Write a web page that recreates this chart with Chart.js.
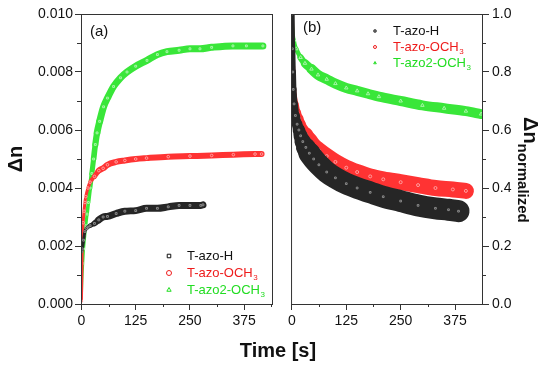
<!DOCTYPE html>
<html>
<head>
<meta charset="utf-8">
<script src="https://cdn.jsdelivr.net/npm/chart.js@4.4.0/dist/chart.umd.min.js"></script>
<style>
  body { margin: 0; background: #fff; width: 550px; height: 366px; overflow: hidden; position: relative;
         font-family: "Liberation Sans", Arial, sans-serif; color: #111; }
  #wrapA { position: absolute; left: 0; top: 0; width: 285px; height: 366px; }
  #wrapB { position: absolute; left: 285px; top: 0; width: 265px; height: 366px; }
  .xtitle { position: absolute; left: 178px; width: 200px; top: 338px; line-height: 24px;
            text-align: center; font-weight: bold; font-size: 20px; }
  .ytitle { position: absolute; left: 543px; top: 117px; white-space: nowrap; font-weight: bold;
            transform-origin: 0 0; transform: rotate(90deg); line-height: 24px; }
  .ytitle .big { font-size: 20px; }
  .ytitle sub { font-size: 15px; vertical-align: -6px; }
</style>
</head>
<body>
<div id="wrapA"><canvas id="chartA"></canvas></div>
<div id="wrapB"><canvas id="chartB"></canvas></div>
<div class="xtitle">Time [s]</div>
<div class="ytitle"><span class="big">Δn</span><sub>normalized</sub></div>

<script>
// ---- dados ----
const seriesNames = ['T-azo-H', 'T-azo-OCH3', 'T-azo2-OCH3'];
const xTicks = [0, 125, 250, 375];

// (a) crescimento de Δn
const tA_H = [0, 2, 5, 8, 12, 15, 20, 30, 40, 50, 60, 80, 100, 125, 150, 175, 200, 225, 250, 275, 280];
const dnA_H = [0.0018, 0.0019, 0.0022, 0.0025, 0.0026, 0.00265, 0.0027, 0.00278, 0.0029, 0.0030, 0.00302,
               0.00312, 0.0032, 0.00322, 0.0033, 0.0033, 0.00335, 0.0034, 0.0034, 0.0034, 0.00342];
const tA_OCH3 = [0, 2, 4, 6, 8, 10, 15, 20, 30, 40, 50, 60, 80, 100, 125, 150, 200, 250, 300, 350, 400, 415];
const dnA_OCH3 = [0.0001, 0.0022, 0.0028, 0.0032, 0.0035, 0.0037, 0.0040, 0.0042, 0.0044, 0.0046, 0.00468,
                  0.0048, 0.0049, 0.00495, 0.0050, 0.00503, 0.00508, 0.0051, 0.00512, 0.00515, 0.00517, 0.00517];
const tA_azo2 = [0, 1, 3, 5, 8, 10, 13, 16, 20, 24, 28, 32, 36, 42, 51, 60, 74, 90, 105, 125, 151, 175, 197,
                 225, 250, 273, 300, 349, 380, 418];
const dnA_azo2 = [0.0003, 0.0008, 0.0014, 0.0019, 0.0024, 0.0027, 0.0031, 0.0035, 0.0040, 0.0045, 0.0050,
                  0.0055, 0.0059, 0.0063, 0.0068, 0.0071, 0.0075, 0.0078, 0.0080, 0.0082, 0.0084, 0.0086,
                  0.0087, 0.00875, 0.0088, 0.0088, 0.00885, 0.0089, 0.0089, 0.0089];

// (b) relaxação normalizada
const tB_H = [0, 1, 2, 3, 5, 8, 12, 16, 20, 25, 32, 40, 50, 62, 80, 100, 125, 150, 180, 210, 250, 290, 330, 360, 383];
const dnB_H = [1.0, 0.88, 0.80, 0.74, 0.69, 0.65, 0.62, 0.60, 0.58, 0.56, 0.54, 0.52, 0.50, 0.48, 0.455, 0.435,
               0.415, 0.40, 0.385, 0.37, 0.355, 0.34, 0.33, 0.325, 0.32];
const tB_OCH3 = [0, 1, 2, 3, 5, 8, 12, 16, 20, 25, 32, 40, 50, 62, 80, 100, 125, 150, 180, 210, 250, 290, 330, 370, 400];
const dnB_OCH3 = [1.0, 0.90, 0.82, 0.77, 0.72, 0.69, 0.66, 0.64, 0.62, 0.60, 0.585, 0.565, 0.545, 0.53, 0.51,
                  0.49, 0.47, 0.455, 0.44, 0.43, 0.42, 0.41, 0.40, 0.395, 0.39];
const tB_azo2 = [0, 2, 5, 10, 20, 30, 45, 60, 80, 100, 125, 150, 175, 200, 250, 300, 350, 400, 435];
const dnB_azo2 = [1.0, 0.95, 0.91, 0.88, 0.85, 0.83, 0.81, 0.79, 0.775, 0.76, 0.745, 0.735, 0.725, 0.715,
                  0.70, 0.685, 0.675, 0.665, 0.655];

const colors = ['#111111', '#ee1c1c', '#22dd22'];     // legenda
const bands = ['#262626', '#ff3333', '#39e639'];      // faixa da nuvem de pontos
const specks = ['#8a8a8a', '#ffa0a0', '#a8f5a8'];     // marcadores

const pts = (xs, ys) => xs.map((x, i) => ({ x: x, y: ys[i] }));

Chart.defaults.font.family = '"Liberation Sans", Arial, sans-serif';
Chart.defaults.color = '#111';

// moldura + ticks menores
const framePlugin = {
    id: 'frame',
    afterDraw(chart, args, opts) {
        const ctx = chart.ctx;
        const a = chart.chartArea;
        ctx.save();
        ctx.strokeStyle = '#333';
        ctx.lineWidth = 1;
        ctx.strokeRect(a.left + 0.5, a.top + 0.5, a.right - a.left, a.bottom - a.top);
        const xs = chart.scales.x;
        for (let v = opts.xMinor; v < xs.max; v += opts.xMinor * 2) {
            const px = Math.round(xs.getPixelForValue(v)) + 0.5;
            ctx.beginPath(); ctx.moveTo(px, a.bottom); ctx.lineTo(px, a.bottom + 3); ctx.stroke();
        }
        const ys = chart.scales.y;
        const right = ys.position === 'right';
        for (let v = opts.yMinor; v < ys.max; v += opts.yMinor * 2) {
            const py = Math.round(ys.getPixelForValue(v)) + 0.5;
            ctx.beginPath();
            if (right) { ctx.moveTo(a.right, py); ctx.lineTo(a.right + 4, py); }
            else { ctx.moveTo(a.left, py); ctx.lineTo(a.left - 4, py); }
            ctx.stroke();
        }
        ctx.restore();
    }
};

// legenda dentro do gráfico, com subscrito
const inLegendPlugin = {
    id: 'inLegend',
    afterDraw(chart, args, opts) {
        const ctx = chart.ctx;
        ctx.save();
        ctx.textBaseline = 'middle';
        chart.data.datasets.forEach((ds, i) => {
            const y = opts.y + i * opts.step;
            ctx.strokeStyle = colors[i];
            ctx.fillStyle = 'rgba(0,0,0,0)';
            ctx.lineWidth = 1;
            Chart.helpers.drawPoint(ctx, { pointStyle: ds.legendStyle || ds.pointStyle, radius: opts.markerRadius,
                                           rotation: 0, borderWidth: 1 }, opts.markerX, y);
            const m = ds.label.match(/^(.*OCH)(3)$/);
            ctx.fillStyle = colors[i];
            ctx.font = opts.fontSize + 'px "Liberation Sans", Arial, sans-serif';
            const main = m ? m[1] : ds.label;
            ctx.fillText(main, opts.textX, y);
            if (m) {
                const w = ctx.measureText(main).width;
                ctx.font = Math.round(opts.fontSize * 0.65) + 'px "Liberation Sans", Arial, sans-serif';
                ctx.fillText(m[2], opts.textX + w + 0.5, y + 5);
            }
        });
        ctx.fillStyle = '#111';
        ctx.font = opts.tagSize + 'px "Liberation Sans", Arial, sans-serif';
        ctx.fillText(opts.tag, opts.tagX, opts.tagY);
        ctx.restore();
    }
};

// faixa larga = nuvem de pontos; mais estreita no início da curva
const makeDataset = (label, data, i, style, radius, width) => ({
    label: label,
    data: data,
    showLine: true,
    borderColor: bands[i],
    borderWidth: width,
    borderCapStyle: 'round',
    borderJoinStyle: 'round',
    cubicInterpolationMode: 'monotone',
    segment: {
        borderWidth: (c) => Math.max(3, width * Math.min(1, 0.25 + c.p0.parsed.x / 50))
    },
    pointStyle: style,
    pointRadius: radius,
    pointBorderWidth: 1,
    pointBorderColor: specks[i],
    pointBackgroundColor: 'rgba(0,0,0,0)'
});

const xAxis = (min, max) => ({
    type: 'linear',
    min: min,
    max: max,
    afterFit: (s) => { s.height = 62; },
    afterBuildTicks: (s) => { s.ticks = xTicks.map(v => ({ value: v })); },
    ticks: { font: { size: 14 }, color: '#111', padding: 3, maxRotation: 0 },
    grid: { drawOnChartArea: false, drawTicks: true, tickLength: 6, color: '#333' },
    border: { display: true, color: '#333' }
});

// ---- (a) ----
const dsA = [
    makeDataset(seriesNames[0], pts(tA_H, dnA_H), 0, 'rect', 1.3, 7),
    makeDataset(seriesNames[1], pts(tA_OCH3, dnA_OCH3), 1, 'circle', 1.3, 6),
    makeDataset(seriesNames[2], pts(tA_azo2, dnA_azo2), 2, 'rect', 1.3, 7)
];
dsA[2].legendStyle = 'triangle';

new Chart(document.getElementById('chartA'), {
    type: 'scatter',
    data: { datasets: dsA },
    options: {
        responsive: true,
        maintainAspectRatio: false,
        animation: false,
        layout: { padding: { top: 14, right: 13, left: 0, bottom: 0 } },
        plugins: {
            legend: { display: false },
            tooltip: { enabled: false },
            frame: { xMinor: 62.5, yMinor: 0.001 },
            inLegend: { markerX: 169, textX: 187, y: 256, step: 17, markerRadius: 2.5, fontSize: 13,
                        tag: '(a)', tagX: 90, tagY: 32, tagSize: 15 }
        },
        scales: {
            x: xAxis(-1, 439),
            y: {
                min: 0,
                max: 0.010,
                afterFit: (s) => { s.width = 81; },
                ticks: { stepSize: 0.002, font: { size: 14 }, color: '#111', padding: 2,
                         callback: (v) => v.toFixed(3) },
                title: { display: true, text: 'Δn', font: { size: 20, weight: 'bold' }, color: '#111', padding: 4 },
                grid: { drawOnChartArea: false, drawTicks: true, tickLength: 6, color: '#333' },
                border: { display: true, color: '#333' }
            }
        }
    },
    plugins: [framePlugin, inLegendPlugin]
});

// ---- (b) ----
const dsB = [
    makeDataset(seriesNames[0], pts(tB_H, dnB_H), 0, 'rect', 1.2, 22),
    makeDataset(seriesNames[1], pts(tB_OCH3, dnB_OCH3), 1, 'circle', 1.5, 16),
    makeDataset(seriesNames[2], pts(tB_azo2, dnB_azo2), 2, 'triangle', 2, 10)
];

new Chart(document.getElementById('chartB'), {
    type: 'scatter',
    data: { datasets: dsB },
    options: {
        responsive: true,
        maintainAspectRatio: false,
        animation: false,
        layout: { padding: { top: 14, right: 0, left: 5, bottom: 0 } },
        plugins: {
            legend: { display: false },
            tooltip: { enabled: false },
            frame: { xMinor: 62.5, yMinor: 0.1 },
            inLegend: { markerX: 90, textX: 108, y: 31, step: 16, markerRadius: 1.5, fontSize: 13,
                        tag: '(b)', tagX: 18, tagY: 28, tagSize: 15 }
        },
        scales: {
            x: xAxis(-2, 437),
            y: {
                position: 'right',
                min: 0,
                max: 1,
                afterFit: (s) => { s.width = 68; },
                ticks: { stepSize: 0.2, font: { size: 14 }, color: '#111', padding: 3,
                         callback: (v) => v.toFixed(1) },
                grid: { drawOnChartArea: false, drawTicks: true, tickLength: 7, color: '#333' },
                border: { display: true, color: '#333' }
            }
        }
    },
    plugins: [framePlugin, inLegendPlugin]
});
</script>
</body>
</html>
